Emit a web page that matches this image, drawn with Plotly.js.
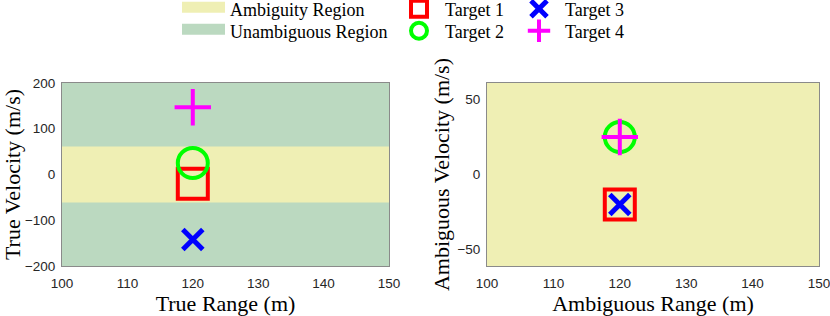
<!DOCTYPE html>
<html>
<head>
<meta charset="utf-8">
<script src="https://cdn.plot.ly/plotly-3.0.1.min.js"></script>
<style>html,body{margin:0;padding:0;background:#fff;}#chart{width:830px;height:316px;}</style>
</head>
<body>
<div id="chart"></div>
<script>
// ---- data ----
const targetNames = ['Target 1', 'Target 2', 'Target 3', 'Target 4'];
const trueRange = [120, 120, 120, 120];
const trueVelocity = [-20, 25, -142, 147];
const ambRange = [120, 120, 120, 120];
const ambVelocity = [-20, 25, -20, 25];
const rangeLimits = [100, 150];
const trueVelLimits = [-200, 200];
const ambVelLimits = [-61, 61];
const regionNames = ['Ambiguity Region', 'Unambiguous Region'];
const xTicks = [100, 110, 120, 130, 140, 150];
const yTicksTrue = [-200, -100, 0, 100, 200];
const yTicksAmb = [-50, 0, 50];

// ---- styles ----
const yellow = 'rgb(239,239,180)';
const green = 'rgb(187,217,192)';
const markerStyles = [
  {symbol: 'square-open', size: 30, color: '#ff0000', lw: 4},
  {symbol: 'circle-open', size: 30, color: '#00ff00', lw: 4},
  {symbol: 'x-thin-open', size: 20, color: '#0000ff', lw: 5},
  {symbol: 'cross-thin-open', size: 26, color: '#ff00ff', lw: 4}
];
const targetLegends = ['legend3', 'legend4', 'legend5', 'legend6'];
const regionLegends = ['legend', 'legend2'];
const regionColors = [yellow, green];

function rect(x0, x1, y0, y1) {
  return {x: [x0, x1, x1, x0, x0], y: [y0, y0, y1, y1, y0]};
}

const traces = [];
// left: unambiguous background (green)
const g = rect(rangeLimits[0], rangeLimits[1], trueVelLimits[0], trueVelLimits[1]);
traces.push({type: 'scatter', mode: 'none', x: g.x, y: g.y, fill: 'toself', fillcolor: green,
  name: regionNames[1], showlegend: false, legendgroup: 'r1', xaxis: 'x', yaxis: 'y', hoverinfo: 'skip'});
// left: ambiguity band (yellow)
const a = rect(rangeLimits[0], rangeLimits[1], ambVelLimits[0], ambVelLimits[1]);
traces.push({type: 'scatter', mode: 'none', x: a.x, y: a.y, fill: 'toself', fillcolor: yellow,
  name: regionNames[0], showlegend: false, legendgroup: 'r0', xaxis: 'x', yaxis: 'y', hoverinfo: 'skip'});
// right: ambiguity region (whole area)
traces.push({type: 'scatter', mode: 'none', x: a.x, y: a.y, fill: 'toself', fillcolor: yellow,
  showlegend: false, legendgroup: 'r0', xaxis: 'x2', yaxis: 'y2', hoverinfo: 'skip'});
// legend entries for the regions (swatches only)
for (let i = 0; i < regionNames.length; i++) {
  traces.push({type: 'scatter', mode: 'lines', x: [null], y: [null], fill: 'toself',
    fillcolor: regionColors[i], line: {color: regionColors[i], width: 10},
    name: regionNames[i], legend: regionLegends[i], legendgroup: 'r' + i, xaxis: 'x', yaxis: 'y'});
}

for (let i = 0; i < targetNames.length; i++) {
  const s = markerStyles[i];
  const mk = {symbol: s.symbol, size: s.size, color: s.color, line: {color: s.color, width: s.lw}};
  traces.push({type: 'scatter', mode: 'markers', x: [trueRange[i]], y: [trueVelocity[i]],
    name: targetNames[i], legend: targetLegends[i], legendgroup: 't' + i, marker: mk, xaxis: 'x', yaxis: 'y'});
  traces.push({type: 'scatter', mode: 'markers', x: [ambRange[i]], y: [ambVelocity[i]],
    name: targetNames[i], legend: targetLegends[i], legendgroup: 't' + i, showlegend: false, marker: mk, xaxis: 'x2', yaxis: 'y2'});
}

const tickFont = {family: 'Liberation Sans, Arial, sans-serif', size: 13.5, color: '#262626'};
const titleFont = {family: 'Liberation Serif, Times New Roman, serif', size: 22, color: '#000'};
const legFont = {family: 'Liberation Serif, Times New Roman, serif', size: 18, color: '#000'};

function axis(extra) {
  return Object.assign({
    showgrid: false, zeroline: false, showline: true, mirror: true,
    linecolor: '#8a8a8a', linewidth: 1, ticks: '', tickfont: tickFont,
    ticklabeloverflow: 'allow', fixedrange: true
  }, extra);
}

const H = 316, W = 830;
const yDom = [1 - 266 / H, 1 - 83 / H];
function leg(xpx, ypx, iw) {
  return {x: xpx / W, y: 1 - ypx / H, xanchor: 'left', yanchor: 'middle', font: legFont,
    itemwidth: iw, bgcolor: 'rgba(0,0,0,0)', borderwidth: 0};
}

const layout = {
  width: W, height: H,
  margin: {l: 0, r: 0, t: 0, b: 0, autoexpand: false},
  paper_bgcolor: '#fff', plot_bgcolor: '#fff',
  showlegend: true,
  xaxis: axis({domain: [62 / W, 389 / W], range: rangeLimits, tickvals: xTicks, anchor: 'y',
    ticklabelstandoff: 5, title: {text: 'True Range (m)', font: titleFont, standoff: 0}}),
  yaxis: axis({domain: yDom, range: trueVelLimits, tickvals: yTicksTrue, anchor: 'x',
    ticklabelstandoff: 3, title: {text: 'True Velocity (m/s)', font: titleFont, standoff: 0}}),
  xaxis2: axis({domain: [487 / W, 819 / W], range: rangeLimits, tickvals: xTicks, anchor: 'y2',
    ticklabelstandoff: 5, title: {text: 'Ambiguous Range (m)', font: titleFont, standoff: 0}}),
  yaxis2: axis({domain: yDom, range: ambVelLimits, tickvals: yTicksAmb, anchor: 'x2',
    ticklabelstandoff: 3, title: {text: 'Ambiguous Velocity (m/s)', font: titleFont, standoff: 1}}),
  legend: leg(177, 9, 43),
  legend2: leg(177, 31, 43),
  legend3: leg(393, 9, 42),
  legend4: leg(393, 31, 42),
  legend5: leg(513, 9, 42),
  legend6: leg(513, 31, 42)
};

Plotly.newPlot('chart', traces, layout, {displayModeBar: false, staticPlot: true});
</script>
</body>
</html>
